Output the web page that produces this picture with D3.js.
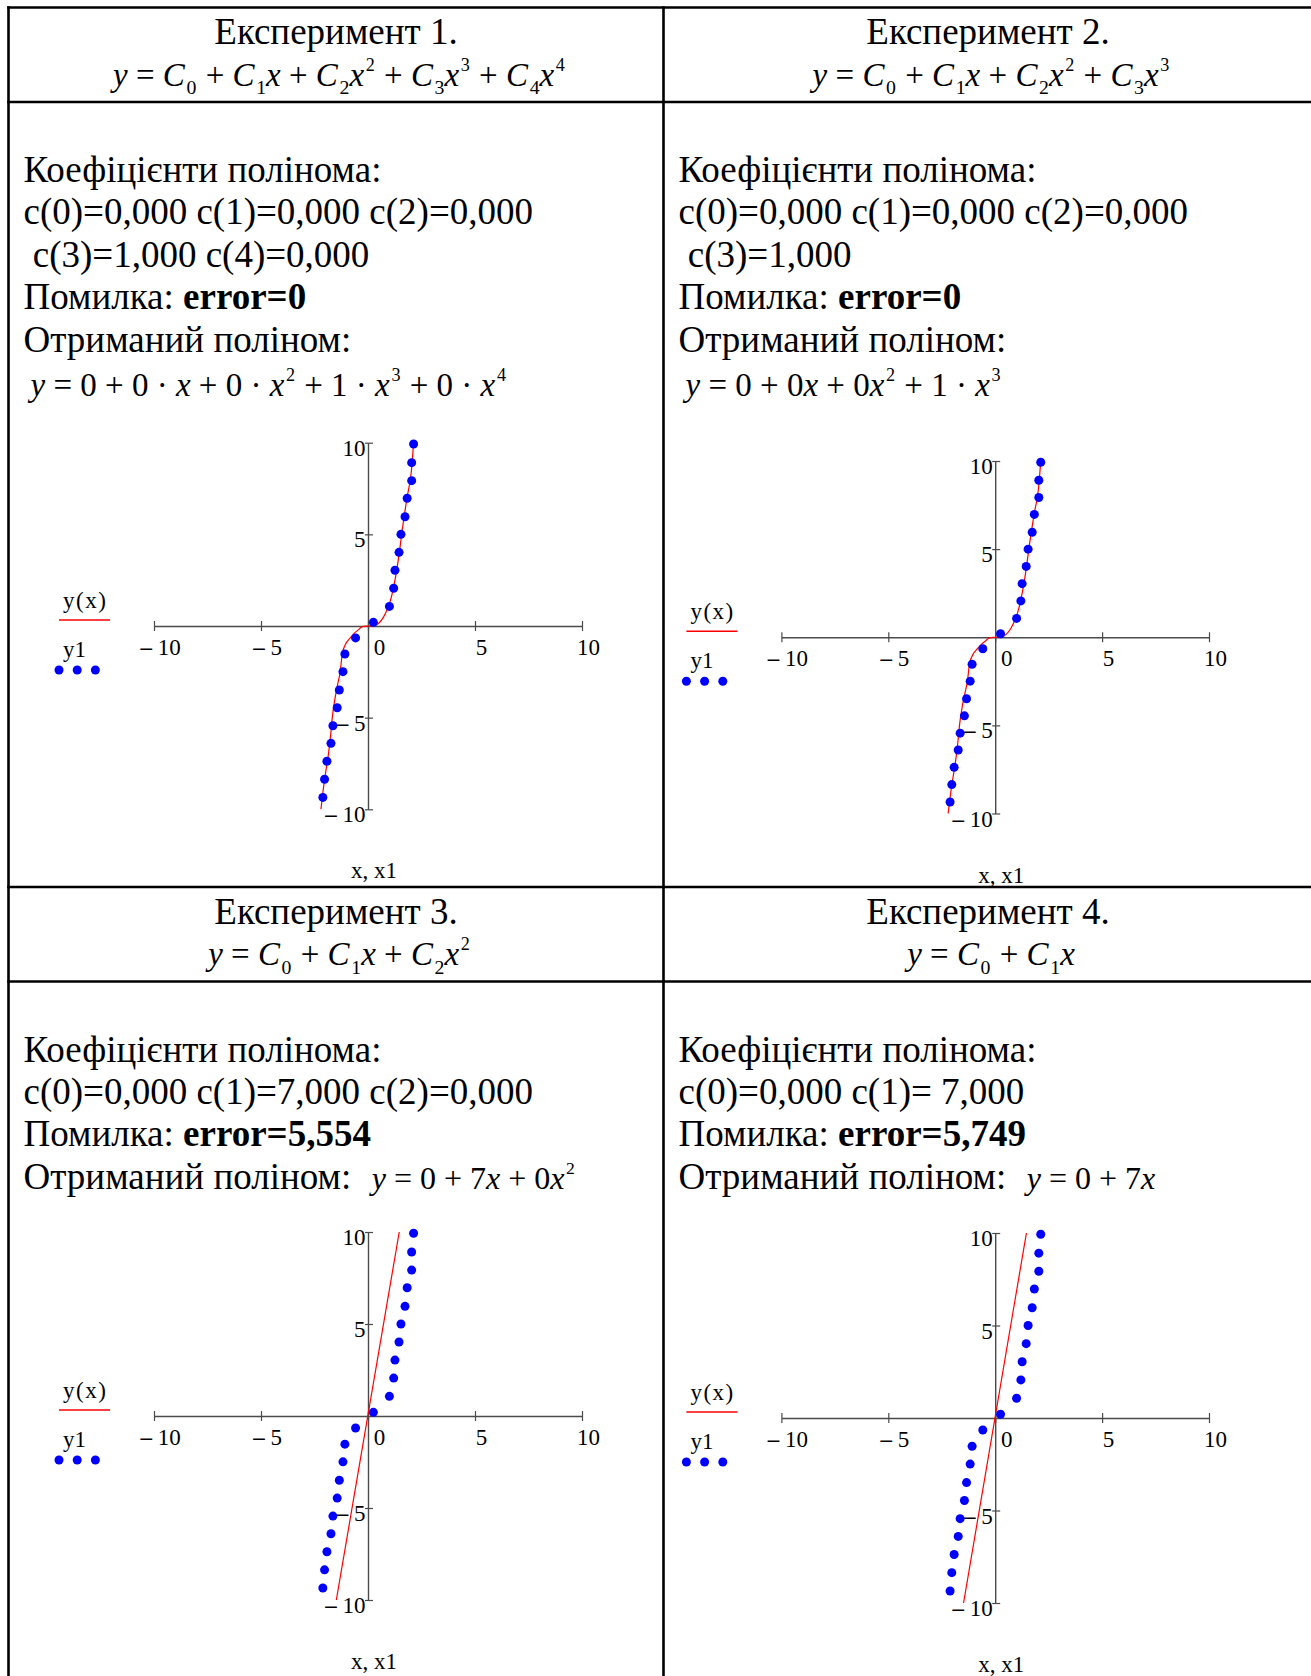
<!DOCTYPE html>
<html>
<head>
<meta charset="utf-8">
<script src="https://cdnjs.cloudflare.com/ajax/libs/d3/7.8.5/d3.min.js"></script>
<style>
body { margin: 0; background: #fff; }
svg { display: block; font-family: "Liberation Serif", "Times New Roman", serif; }
text { white-space: pre; }
</style>
</head>
<body>
<div class="canva"></div>
<script>
// ---- data ----
const titles = ["Експеримент 1.", "Експеримент 2.", "Експеримент 3.", "Експеримент 4."];
const models = [
	"y = C_0 + C_1x + C_2x^2 + C_3x^3 + C_4x^4",
	"y = C_0 + C_1x + C_2x^2 + C_3x^3",
	"y = C_0 + C_1x + C_2x^2",
	"y = C_0 + C_1x"
];
const coefLines = [
	["c(0)=0,000 c(1)=0,000 c(2)=0,000", " c(3)=1,000 c(4)=0,000"],
	["c(0)=0,000 c(1)=0,000 c(2)=0,000", " c(3)=1,000"],
	["c(0)=0,000 c(1)=7,000 c(2)=0,000"],
	["c(0)=0,000 c(1)= 7,000"]
];
const errors = ["error=0", "error=0", "error=5,554", "error=5,749"];
const results = [
	"y = 0 + 0 · x + 0 · x^2 + 1 · x^3 + 0 · x^4",
	"y = 0 + 0x + 0x^2 + 1 · x^3",
	"y = 0 + 7x + 0x^2",
	"y = 0 + 7x"
];

const xTicks = [-10, -5, 0, 5, 10];
const yTicks = [-10, -5, 5, 10];

// measured points (x1, y1)
const x1 = [-2.11, -2.03, -1.92, -1.73, -1.64, -1.44, -1.34, -1.17, -1.08, -0.58, 0.25,
	1.0, 1.2, 1.26, 1.45, 1.54, 1.73, 1.83, 2.04, 2.04, 2.13];
const y1 = [-9.35, -8.36, -7.38, -6.4, -5.44, -4.46, -3.49, -2.49, -1.53, -0.65, 0.2,
	1.07, 2.06, 3.04, 4.02, 5.0, 5.96, 6.97, 7.93, 8.91, 9.93];

// fitted curve y(x)
const cubicX = [-2.2, -2.1, -1.98, -1.85, -1.75, -1.67, -1.55, -1.42, -1.3, -1.2, -1.05, -0.83,
	-0.6, -0.44, -0.3, 0, 0.3, 0.5, 0.73, 0.92, 1.05, 1.2, 1.35, 1.48, 1.6, 1.72, 1.83, 1.95, 2.03, 2.13];
const cubicY = [-10, -9, -8, -7, -6, -5, -4, -3.2, -2.5, -1.5, -1.0, -0.65,
	-0.35, -0.2, -0.05, 0, 0.03, 0.15, 0.5, 0.96, 1.4, 2.14, 3.1, 4.15, 5.24, 6.2, 7.05, 7.8, 8.5, 10];
const linX = [-1.48, 1.46];
const linY = [-10, 10];

// ---- layout ----
const W = 1311, H = 1676;
const colLeft = [8.5, 663.5];
const colCenter = [336, 988];
const rowTop = [7.5, 887];
const headH = 94.5;
const lineH = 42.4;
const bodySize = 37;
const tickSize = 23;

const plots = [
	{ xr: [154, 582], yr: [809.3, 442.7], curve: [cubicX, cubicY] },
	{ xr: [781.4, 1209], yr: [813.5, 461], curve: [cubicX, cubicY] },
	{ xr: [154, 582], yr: [1600, 1232], curve: [linX, linY] },
	{ xr: [781.4, 1209], yr: [1603, 1233], curve: [linX, linY] }
];

const svg = d3.select(".canva")
	.append("svg")
	.attr("width", W)
	.attr("height", H);

svg.append("rect").attr("width", W).attr("height", H).attr("fill", "#fff");

// formula string -> tspans (x, y, C italic; _n subscript; ^n superscript)
function formula(sel, x, y, str, size, anchor) {
	const segs = [];
	for (let i = 0; i < str.length; i++) {
		const ch = str[i];
		if (ch === "_" || ch === "^") {
			segs.push([str[++i], ch === "_" ? "sub" : "sup"]);
		} else if ("xyC".includes(ch)) {
			segs.push([ch, "i"]);
		} else if (segs.length && segs[segs.length - 1][1] === "n") {
			segs[segs.length - 1][0] += ch;
		} else {
			segs.push([ch, "n"]);
		}
	}
	return rich(sel, x, y, segs, size, anchor);
}

function rich(sel, x, y, segs, size, anchor) {
	const t = sel.append("text")
		.attr("x", x)
		.attr("y", y)
		.attr("font-size", size)
		.attr("text-anchor", anchor || "start");
	let shift = 0, prev = null;
	segs.forEach(([s, k]) => {
		let target = 0, fs = size;
		if (k === "sub") { target = size * 0.27; fs = size * 0.6; }
		if (k === "sup") { target = -size * 0.45; fs = size * 0.55; }
		const sp = t.append("tspan").text(s).attr("font-size", fs);
		if (target - shift !== 0) sp.attr("dy", target - shift);
		if ((k === "sub" || k === "sup") && prev === "i") sp.attr("dx", size * 0.05);
		if (k === "n" && (prev === "sub" || prev === "sup")) sp.attr("dx", size * 0.03);
		shift = target;
		prev = k;
		if (k === "i") sp.attr("font-style", "italic");
		if (k === "b") sp.attr("font-weight", "bold");
	});
	return t;
}

// ---- table borders ----
const grid = svg.append("g").attr("stroke", "#000").attr("stroke-width", 2.6);
grid.append("line").attr("x1", colLeft[0]).attr("x2", colLeft[0]).attr("y1", rowTop[0] - 1.3).attr("y2", H);
grid.append("line").attr("x1", colLeft[1]).attr("x2", colLeft[1]).attr("y1", rowTop[0] - 1.3).attr("y2", H);
[rowTop[0], rowTop[0] + headH, rowTop[1], rowTop[1] + headH].forEach(yy => {
	grid.append("line").attr("x1", colLeft[0] - 1.3).attr("x2", W).attr("y1", yy).attr("y2", yy);
});

// ---- cells ----
titles.forEach((title, i) => {
	const col = i % 2, row = Math.floor(i / 2);
	const top = rowTop[row];
	const g = svg.append("g");

	g.append("text")
		.attr("x", colCenter[col])
		.attr("y", top + 36.5)
		.attr("text-anchor", "middle")
		.attr("font-size", bodySize)
		.text(title);
	formula(g, colCenter[col] + 3, top + 78, models[i], 33, "middle");

	const tx = colLeft[col] + 15;
	let yy = top + headH + 80;
	const lines = [[["Коефіцієнти полінома:", "n"]]];
	coefLines[i].forEach(s => lines.push([[s, "n"]]));
	lines.push([["Помилка: ", "n"], [errors[i], "b"]]);
	lines.forEach(segs => {
		rich(g, tx, yy, segs, bodySize);
		yy += lineH;
	});
	if (row === 0) {
		g.append("text").attr("x", tx).attr("y", yy).attr("font-size", bodySize).text("Отриманий поліном:");
		formula(g, tx + 7, yy + 44, results[i], 33);
	} else {
		const t = g.append("text").attr("x", tx).attr("y", yy).attr("font-size", bodySize).text("Отриманий поліном:  ");
		const w = t.node().getComputedTextLength();
		formula(g, tx + w + 2, yy, results[i], 32);
	}

	drawPlot(g, plots[i]);
});

function drawPlot(g, p) {
	const x = d3.scaleLinear().domain([-10, 10]).range(p.xr);
	const y = d3.scaleLinear().domain([-10, 10]).range(p.yr);
	const x0 = x(0), y0 = y(0);
	const minus = d => (d < 0 ? "– " + Math.abs(d) : String(d));

	const xa = g.append("g")
		.attr("transform", `translate(0,${y0})`)
		.call(d3.axisBottom(x).tickValues(xTicks).tickSizeOuter(0).tickFormat(minus))
		.attr("font-family", null)
		.attr("font-size", tickSize);
	xa.select(".domain").attr("stroke", "#4a4a4a").attr("stroke-width", 1.4);
	xa.selectAll(".tick line").attr("y1", -5).attr("y2", 5).attr("stroke", "#4a4a4a").attr("stroke-width", 1.2);
	xa.selectAll(".tick text")
		.attr("fill", "#000")
		.attr("y", 29)
		.attr("dy", null)
		.attr("x", d => (d === 0 ? 11 : 6));

	const ya = g.append("g")
		.attr("transform", `translate(${x0},0)`)
		.call(d3.axisLeft(y).tickValues(yTicks).tickSizeOuter(0).tickFormat(minus))
		.attr("font-family", null)
		.attr("font-size", tickSize);
	ya.select(".domain").attr("stroke", "#4a4a4a").attr("stroke-width", 1.4);
	ya.selectAll(".tick line").attr("x1", -3).attr("x2", 5).attr("stroke", "#4a4a4a").attr("stroke-width", 1.2);
	ya.selectAll(".tick text")
		.attr("fill", "#000")
		.attr("x", -2.5)
		.attr("y", 12.5)
		.attr("dy", null);

	// bold minus like the original
	g.selectAll(".tick text").each(function (d) {
		if (d < 0) {
			const t = d3.select(this).text(null);
			t.append("tspan").attr("font-weight", "bold").text("–");
			t.append("tspan").text(" " + Math.abs(d));
		}
	});

	const [cx, cy] = p.curve;
	const line = d3.line()
		.x(d => x(d[0]))
		.y(d => y(d[1]))
		.curve(d3.curveMonotoneX);
	g.append("path")
		.datum(cx.map((v, k) => [v, cy[k]]))
		.attr("d", line)
		.attr("fill", "none")
		.attr("stroke", "#ff0000")
		.attr("stroke-width", 1.2);

	g.append("g")
		.selectAll("circle")
		.data(x1.map((v, k) => [v, y1[k]]))
		.enter()
		.append("circle")
		.attr("cx", d => x(d[0]))
		.attr("cy", d => y(d[1]))
		.attr("r", 4.5)
		.attr("fill", "#0000ff");

	// axis title
	g.append("text")
		.attr("x", x0 + 6)
		.attr("y", y(-10) + 69)
		.attr("text-anchor", "middle")
		.attr("font-size", tickSize)
		.text("x, x1");

	// legend
	const lx = x(-10) - 95;
	g.append("text")
		.attr("x", lx + 4)
		.attr("y", y0 - 18)
		.attr("font-size", tickSize)
		.attr("letter-spacing", 1.5)
		.text("y(x)");
	g.append("line")
		.attr("x1", lx).attr("x2", lx + 51)
		.attr("y1", y0 - 6).attr("y2", y0 - 6)
		.attr("stroke", "#ff0000")
		.attr("stroke-width", 1.3);
	g.append("text")
		.attr("x", lx + 4)
		.attr("y", y0 + 31)
		.attr("font-size", tickSize)
		.text("y1");
	g.append("g")
		.selectAll("circle")
		.data([0, 1, 2])
		.enter()
		.append("circle")
		.attr("cx", k => lx + k * 18.2)
		.attr("cy", y0 + 44)
		.attr("r", 4.5)
		.attr("fill", "#0000ff");
}
</script>
</body>
</html>
